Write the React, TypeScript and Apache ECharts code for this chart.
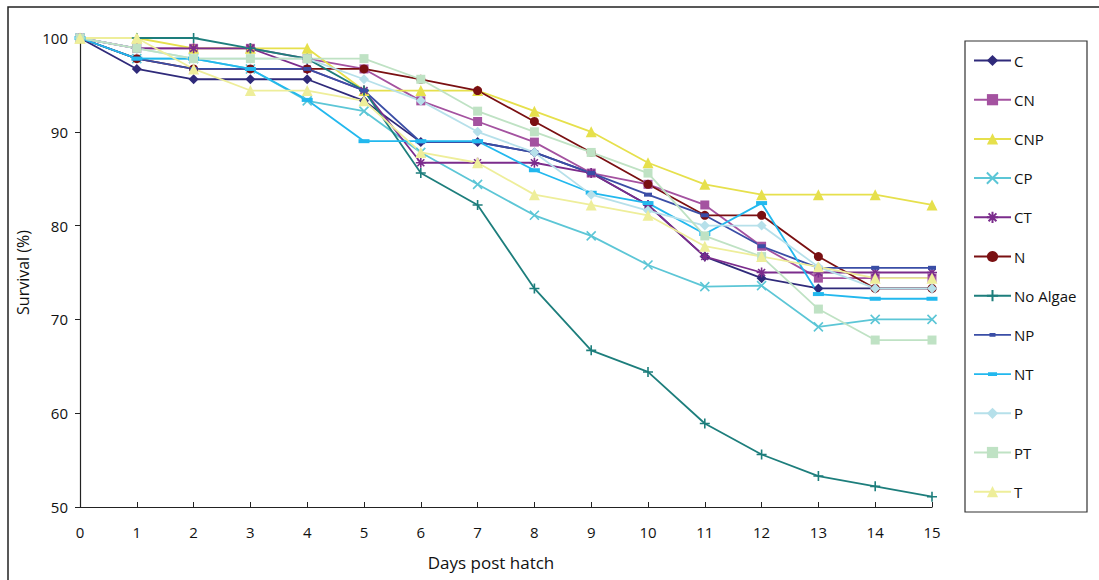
import React, { useEffect, useRef } from "react";
import * as echarts from "echarts";

// Days post hatch (x values)
const days = [0, 1, 2, 3, 4, 5, 6, 7, 8, 9, 10, 11, 12, 13, 14, 15];

// Survival (%) per treatment
const survC = [100, 96.7, 95.6, 95.6, 95.6, 93.3, 88.9, 88.9, 87.8, 85.6, 82.2, 76.7, 74.4, 73.3, 73.3, 73.3];
const survCN = [100, 98.9, 98.9, 98.9, 97.8, 96.7, 93.3, 91.1, 88.9, 85.6, 84.4, 82.2, 77.8, 74.4, 74.4, 74.4];
const survCNP = [100, 100, 98.9, 98.9, 98.9, 94.4, 94.4, 94.4, 92.2, 90.0, 86.7, 84.4, 83.3, 83.3, 83.3, 82.2];
const survCP = [100, 97.8, 97.8, 96.7, 93.3, 92.2, 87.8, 84.4, 81.1, 78.9, 75.8, 73.5, 73.6, 69.2, 70.0, 70.0];
const survCT = [100, 98.9, 98.9, 98.9, 96.7, 94.4, 86.7, 86.7, 86.7, 85.6, 82.2, 76.7, 75.0, 75.0, 75.0, 75.0];
const survN = [100, 97.8, 96.7, 96.7, 96.7, 96.7, 95.6, 94.4, 91.1, 87.8, 84.4, 81.1, 81.1, 76.7, 73.3, 73.3];
const survNoAlgae = [100, 100, 100, 98.9, 97.8, 94.4, 85.6, 82.2, 73.3, 66.7, 64.4, 58.9, 55.6, 53.3, 52.2, 51.1];
const survNP = [100, 97.8, 96.7, 96.7, 96.7, 94.4, 88.9, 88.9, 87.8, 85.6, 83.3, 81.1, 77.8, 75.5, 75.5, 75.5];
const survNT = [100, 97.8, 97.8, 96.7, 93.4, 89.0, 89.0, 89.0, 85.9, 83.5, 82.4, 79.1, 82.4, 72.7, 72.2, 72.2];
const survP = [100, 98.9, 97.8, 97.8, 97.8, 95.6, 93.3, 90.0, 87.8, 83.3, 81.6, 80.0, 80.0, 75.6, 73.3, 73.3];
const survPT = [100, 98.9, 97.8, 97.8, 97.8, 97.8, 95.6, 92.2, 90.0, 87.8, 85.6, 78.9, 76.7, 71.1, 67.8, 67.8];
const survT = [100, 100, 96.7, 94.4, 94.4, 93.3, 87.8, 86.7, 83.3, 82.2, 81.1, 77.8, 76.7, 75.6, 74.4, 74.4];

const yTicks = [50, 60, 70, 80, 90, 100];

const SYM_X = "path://M0,0L10,10M10,0L0,10";
const SYM_PLUS = "path://M5,0L5,10M0,5L10,5";
const SYM_STAR = "path://M5,0L5,10M0,5L10,5M1.5,1.5L8.5,8.5M8.5,1.5L1.5,8.5";

// Legend glyphs for the dash-marker series: a thin line with a small bar in the middle
const dashIcon = (barW: number) => {
  const a = 18.5 - barW / 2;
  const b = 18.5 + barW / 2;
  return `path://M0,0L0,0M0,6.1L37,6.1L37,7.9L0,7.9ZM${a},5.2L${b},5.2L${b},8.8L${a},8.8ZM0,14L0,14`;
};

type Def = {
  name: string;
  data: number[];
  color: string;
  symbol: string;
  size: number | number[];
  stroke?: boolean;
  icon?: string;
};

const defs: Def[] = [
  { name: "C", data: survC, color: "#2f2a7a", symbol: "diamond", size: 10 },
  { name: "CN", data: survCN, color: "#a452a0", symbol: "rect", size: 9 },
  { name: "CNP", data: survCNP, color: "#e6e04c", symbol: "triangle", size: 11 },
  { name: "CP", data: survCP, color: "#5cc6d6", symbol: SYM_X, size: 9, stroke: true },
  { name: "CT", data: survCT, color: "#7b2c8c", symbol: SYM_STAR, size: 10, stroke: true },
  { name: "N", data: survN, color: "#7a1012", symbol: "circle", size: 9 },
  { name: "No Algae", data: survNoAlgae, color: "#1d7e7c", symbol: SYM_PLUS, size: 10, stroke: true },
  { name: "NP", data: survNP, color: "#3a4ea6", symbol: "rect", size: [8, 4], icon: dashIcon(6) },
  { name: "NT", data: survNT, color: "#22b8ee", symbol: "rect", size: [11, 4], icon: dashIcon(9) },
  { name: "P", data: survP, color: "#b6e0ea", symbol: "diamond", size: 10 },
  { name: "PT", data: survPT, color: "#bfe2c4", symbol: "rect", size: 9 },
  { name: "T", data: survT, color: "#eeee9a", symbol: "triangle", size: 11 },
];

const FONT = "'Open Sans', 'DejaVu Sans', sans-serif";

export default function App() {
  const ref = useRef<HTMLDivElement>(null);

  useEffect(() => {
    document.body.style.margin = "0";
    if (!ref.current) return;
    const chart = echarts.init(ref.current, undefined, { renderer: "svg" });

    const series = defs.map((d) => ({
      name: d.name,
      type: "line",
      data: days.map((x, i) => [x, d.data[i]]),
      symbol: d.symbol,
      symbolSize: d.size,
      showSymbol: true,
      lineStyle: { color: d.color, width: 1.8 },
      itemStyle: d.stroke
        ? { color: d.color, borderColor: d.color, borderWidth: 1.6 }
        : { color: d.color, borderWidth: 0 },
      emphasis: { disabled: true },
      z: 2,
    }));

    chart.setOption({
      animation: false,
      backgroundColor: "#ffffff",
      textStyle: { fontFamily: FONT },
      grid: { left: 80, right: 167, top: 38, bottom: 73 },
      xAxis: {
        type: "value",
        min: 0,
        max: 15,
        interval: 1,
        name: "Days post hatch",
        nameLocation: "middle",
        nameGap: 47,
        nameTextStyle: { fontSize: 17, color: "#111", fontFamily: FONT, padding: [0, 30, 0, 0] },
        axisLine: { lineStyle: { color: "#222", width: 1.2 } },
        axisTick: { inside: true, length: 5, lineStyle: { color: "#222" } },
        axisLabel: { fontSize: 15, color: "#111", margin: 17, fontFamily: FONT },
        splitLine: { show: false },
      },
      yAxis: {
        type: "value",
        min: yTicks[0],
        max: yTicks[yTicks.length - 1],
        interval: 10,
        name: "Survival (%)",
        nameLocation: "middle",
        nameGap: 44,
        nameRotate: 90,
        nameTextStyle: { fontSize: 16, color: "#111", fontFamily: FONT },
        axisLine: { show: true, lineStyle: { color: "#222", width: 1.2 } },
        axisTick: { show: true, inside: false, length: 5, lineStyle: { color: "#222" } },
        axisLabel: { fontSize: 15, color: "#111", margin: 12, fontFamily: FONT },
        splitLine: { show: false },
      },
      legend: {
        orient: "vertical",
        left: 973,
        top: 53,
        padding: 0,
        itemWidth: 37,
        itemHeight: 14,
        itemGap: 24.2,
        textStyle: { fontSize: 15, color: "#111", fontFamily: FONT, padding: [0, 0, 0, -2] },
        data: defs.map((d) => (d.icon ? { name: d.name, icon: d.icon } : d.name)),
      },
      graphic: [
        {
          type: "rect",
          shape: { x: 8, y: 7, width: 1200, height: 700 },
          style: { fill: "none", stroke: "#222", lineWidth: 1.5 },
          silent: true,
          z: -10,
        },
        {
          type: "rect",
          shape: { x: 965, y: 41, width: 122, height: 471 },
          style: { fill: "none", stroke: "#333", lineWidth: 1.2 },
          silent: true,
        },
      ],
      series,
    });

    return () => chart.dispose();
  }, []);

  return <div ref={ref} style={{ width: 1099, height: 580 }} />;
}
